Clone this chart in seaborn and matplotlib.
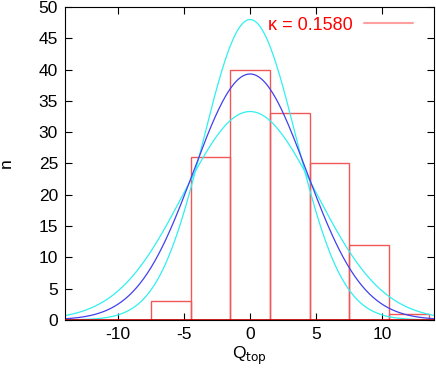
import numpy as np
import matplotlib
matplotlib.use("Agg")
import matplotlib.pyplot as plt
import seaborn as sns
from matplotlib.lines import Line2D

# histogram of Q_top
bin_edges = [-7.5, -4.5, -1.5, 1.5, 4.5, 7.5, 10.5, 13.5]
counts = [3, 26, 40, 33, 25, 12, 1]

# gaussian curves: (peak height, sigma), centred on 0
fit_mid = (39.3, 4.26)
fit_narrow = (48.0, 3.49)
fit_wide = (33.3, 5.03)

kappa_label = "κ = 0.1580"

sns.set_style("ticks")
plt.rcParams["font.family"] = ["Liberation Sans", "DejaVu Sans"]
plt.rcParams["axes.unicode_minus"] = False

fs = 12.5

fig = plt.figure(figsize=(4.36, 3.69), dpi=100)
ax = fig.add_axes([0.149, 0.133, 0.846, 0.848])

centers = [(a + b) / 2 for a, b in zip(bin_edges[:-1], bin_edges[1:])]
sns.histplot(x=centers, weights=counts, bins=bin_edges, fill=False,
             color="#f05858", linewidth=1.0, ax=ax)

xs = np.linspace(-14, 14, 400)
for (amp, sig), col in [(fit_narrow, "#30f0f0"), (fit_wide, "#30f0f0"), (fit_mid, "#4040f0")]:
    sns.lineplot(x=xs, y=amp * np.exp(-xs ** 2 / (2 * sig ** 2)), color=col,
                 linewidth=0.9, ax=ax)

ax.axhline(0, color="#c00000", linewidth=1.2, zorder=5)

ax.set_xlim(-14, 13.9)
ax.set_ylim(0, 50)
ax.set_xticks([-10, -5, 0, 5, 10])
ax.set_yticks(range(0, 51, 5))
ax.tick_params(direction="in", top=True, right=True, length=5, width=0.8,
               labelsize=fs, colors="black", pad=5)
for s in ax.spines.values():
    s.set_visible(True)
    s.set_linewidth(0.8)
    s.set_color("black")

ax.set_xlabel(r"Q$_{\rm top}$", fontsize=fs, labelpad=2, color="black")
ax.set_ylabel("n", fontsize=fs, labelpad=18, color="black")

handle = Line2D([], [], color="#ffa0a0", linewidth=1.5)
ax.legend(handles=[handle], labels=[kappa_label], loc="upper right", frameon=False,
          markerfirst=False, labelcolor="red", handlelength=2.7, fontsize=fs + 0.5,
          bbox_to_anchor=(0.962, 0.992), borderaxespad=0, handletextpad=0.6)

fig.savefig("out.png", dpi=100)
